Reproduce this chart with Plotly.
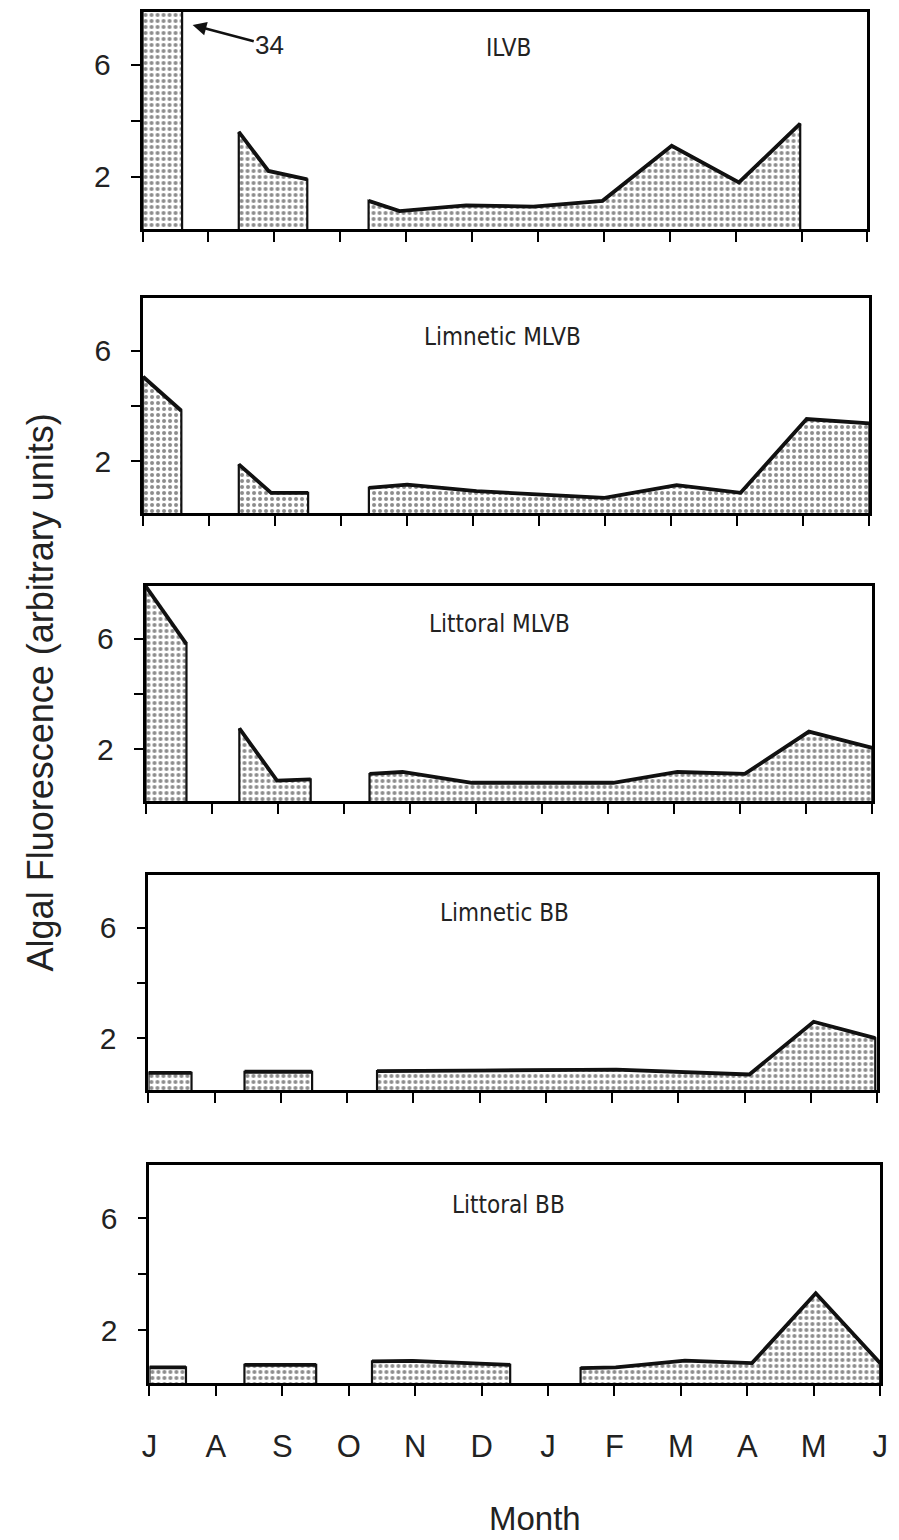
import plotly.graph_objects as go

# ---------------- data ----------------
months = ["J", "A", "S", "O", "N", "D", "J", "F", "M", "A", "M", "J"]
month_pos = list(range(12))

panel_titles = ["ILVB", "Limnetic MLVB", "Littoral MLVB", "Limnetic BB", "Littoral BB"]

ilvb_x = [[0.0, 0.6], [1.46, 1.91, 2.50], [3.43, 3.90, 4.91, 5.93, 6.98, 8.03, 9.05, 9.98]]
ilvb_y = [[34, 34], [3.6, 2.2, 1.9], [1.13, 0.76, 0.97, 0.92, 1.13, 3.10, 1.79, 3.9]]

lim_mlvb_x = [[0.0, 0.58], [1.45, 1.94, 2.50], [3.42, 4.0, 5.05, 6.99, 8.08, 9.05, 10.05, 11.0]]
lim_mlvb_y = [[5.05, 3.82], [1.88, 0.85, 0.85], [1.03, 1.15, 0.91, 0.67, 1.13, 0.85, 3.52, 3.36]]

lit_mlvb_x = [[0.0, 0.62], [1.42, 1.99, 2.50], [3.39, 3.89, 4.94, 7.08, 8.05, 9.07, 10.04, 11.0]]
lit_mlvb_y = [[7.9, 5.8], [2.75, 0.86, 0.90], [1.10, 1.17, 0.78, 0.78, 1.17, 1.10, 2.63, 2.04]]

lim_bb_x = [[0.0, 0.65], [1.45, 2.47], [3.45, 6.05, 7.06, 9.07, 10.04, 10.97]]
lim_bb_y = [[0.74, 0.74], [0.78, 0.78], [0.80, 0.86, 0.86, 0.68, 2.59, 2.0]]

lit_bb_x = [[0.0, 0.55], [1.43, 2.51], [3.35, 3.96, 5.43], [6.49, 7.02, 8.06, 9.07, 10.03, 11.0]]
lit_bb_y = [[0.68, 0.68], [0.77, 0.77], [0.89, 0.91, 0.77], [0.65, 0.68, 0.92, 0.83, 3.32, 0.83]]

panel_x = [ilvb_x, lim_mlvb_x, lit_mlvb_x, lim_bb_x, lit_bb_x]
panel_y = [ilvb_y, lim_mlvb_y, lit_mlvb_y, lim_bb_y, lit_bb_y]

y_ticks = [2, 4, 6]
y_ticktext = ["2", "", "6"]
off_scale_label = "34"

# ---------------- layout geometry (pixels) ----------------
W, H = 899, 1540
boxes = [(137, 875, 12, 229), (137.5, 877, 298, 513), (140, 880, 586, 801),
         (143, 885, 875, 1090), (144, 888, 1165, 1383)]
title_pos = [(510, 48), (503, 337), (500, 624), (506, 913), (510, 1205)]

TICK_FONT = "Liberation Sans, Arial, Helvetica, sans-serif"
NARROW_FONT = "Liberation Sans Narrow, DejaVu Sans Condensed, Arial Narrow, sans-serif"

fig = go.Figure()
layout = dict(
    width=W, height=H,
    margin=dict(l=0, r=0, t=0, b=0),
    paper_bgcolor="white", plot_bgcolor="white",
    showlegend=False,
    annotations=[],
)

pattern = dict(shape=".", fgcolor="#1a1a1a", bgcolor="white", size=6, solidity=0.35)

for i in range(5):
    L, R, T, B = boxes[i]
    xa = "x" if i == 0 else f"x{i+1}"
    ya = "y" if i == 0 else f"y{i+1}"
    xkey = "xaxis" if i == 0 else f"xaxis{i+1}"
    ykey = "yaxis" if i == 0 else f"yaxis{i+1}"
    last = i == 4
    layout[xkey] = dict(
        domain=[L / W, R / W], anchor=ya, range=[0, 11],
        tickvals=month_pos, ticktext=months if last else [""] * 12,
        showticklabels=last,
        ticks="outside", ticklen=10, tickwidth=2, tickcolor="black",
        showline=True, linecolor="black", linewidth=2.8, mirror=True,
        showgrid=False, zeroline=False, fixedrange=True,
        tickfont=dict(family=TICK_FONT, size=31, color="#222"),
        ticklabelstandoff=24,
    )
    layout[ykey] = dict(
        domain=[1 - B / H, 1 - T / H], anchor=xa, range=[0.12, 7.9],
        tickvals=y_ticks, ticktext=y_ticktext,
        ticks="outside", ticklen=9, tickwidth=2, tickcolor="black",
        showline=True, linecolor="black", linewidth=2.8, mirror=True,
        showgrid=False, zeroline=False, fixedrange=True,
        tickfont=dict(family=TICK_FONT, size=30, color="#222"),
        ticklabelstandoff=14,
    )
    for sx, sy in zip(panel_x[i], panel_y[i]):
        px = [sx[0]] + sx + [sx[-1]]
        py = [0] + sy + [0]
        fig.add_trace(go.Scatter(
            x=px, y=py, xaxis=xa, yaxis=ya, mode="lines", fill="toself",
            fillcolor="white", fillpattern=pattern,
            line=dict(color="#111", width=2.2), hoverinfo="skip"))
        fig.add_trace(go.Scatter(
            x=sx, y=sy, xaxis=xa, yaxis=ya, mode="lines",
            line=dict(color="#111", width=3.8), hoverinfo="skip"))
    tx, ty = title_pos[i]
    layout["annotations"].append(dict(
        xref="paper", yref="paper", x=tx / W, y=1 - ty / H,
        xanchor="center", yanchor="middle",
        text=panel_titles[i], showarrow=False,
        font=dict(family=NARROW_FONT, size=24, color="#222")))

# arrow for the off-scale value in ILVB
layout["annotations"].append(dict(
    xref="x", yref="y", x=0.76, y=7.43, axref="x", ayref="y", ax=1.93, ay=6.7,
    xanchor="center", yanchor="middle",
    text=off_scale_label, showarrow=True, arrowhead=2, arrowsize=1.1, arrowwidth=2.5,
    arrowcolor="#111", font=dict(family=TICK_FONT, size=26, color="#222")))

# axis titles
layout["annotations"].append(dict(
    xref="paper", yref="paper", x=537 / W, y=1 - 1518 / H,
    xanchor="center", yanchor="middle",
    text="Month", showarrow=False,
    font=dict(family=TICK_FONT, size=33, color="#222")))
layout["annotations"].append(dict(
    xref="paper", yref="paper", x=33 / W, y=1 - 692 / H,
    xanchor="center", yanchor="middle",
    text="Algal Fluorescence (arbitrary units)", showarrow=False, textangle=-90,
    font=dict(family=TICK_FONT, size=36, color="#222")))

fig.update_layout(**layout)
fig.write_html("out.html")
